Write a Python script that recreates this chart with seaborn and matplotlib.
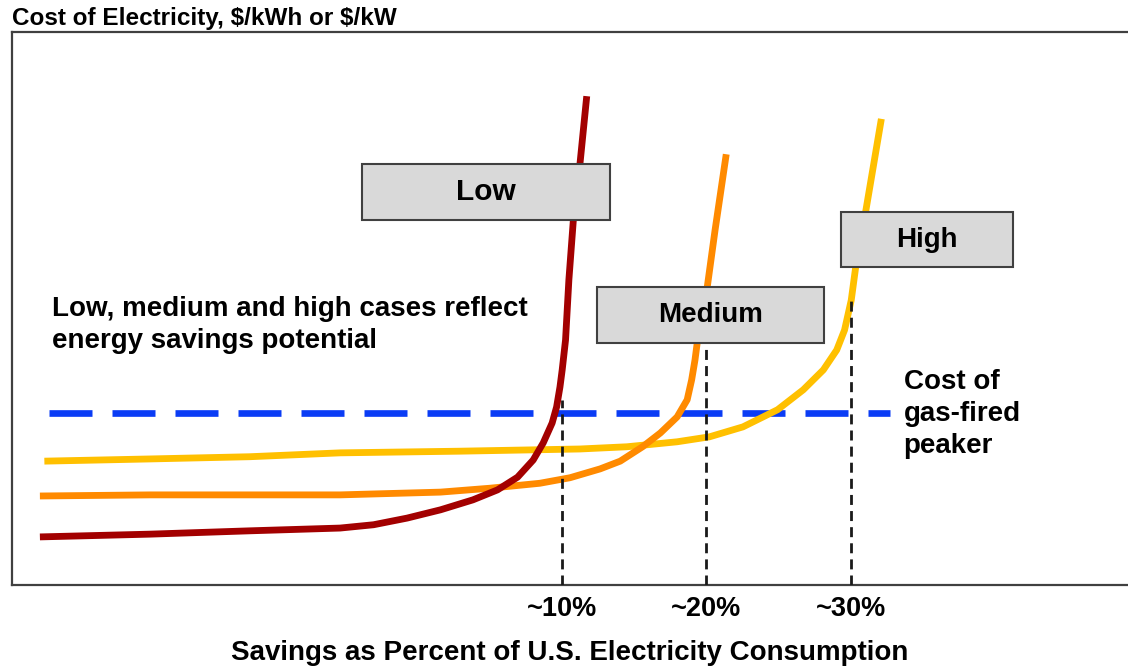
import matplotlib
matplotlib.use("Agg")
import matplotlib.pyplot as plt
from matplotlib.patches import Rectangle
import pandas as pd
import seaborn as sns

# Conceptual supply curves (axis units: x and y both 0-100 across the frame)
low_x = [2.5, 12.4, 21.3, 29.4, 32.4, 35.4, 38.4, 41.3, 43.5, 45.3, 46.7, 47.6, 48.4, 48.8,
         49.1, 49.3, 49.6, 49.9, 50.3, 50.9, 51.5]
low_y = [8.7, 9.2, 9.8, 10.3, 10.9, 12.1, 13.6, 15.4, 17.2, 19.5, 22.6, 25.7, 29.3, 32.2,
         35.8, 38.9, 44.3, 55.2, 66.0, 76.3, 88.4]

medium_x = [2.5, 12.4, 21.3, 29.4, 38.4, 42.8, 47.3, 50.0, 52.7, 54.5, 56.5, 58.1, 59.6,
            60.5, 60.9, 61.2, 61.4, 62.3, 63.0, 64.0]
medium_y = [16.1, 16.3, 16.3, 16.3, 16.8, 17.5, 18.4, 19.4, 21.0, 22.4, 25.0, 27.5, 30.4,
            33.5, 37.1, 40.7, 43.8, 53.9, 64.2, 77.9]

high_x = [2.9, 12.4, 21.3, 29.4, 40.1, 50.9, 55.1, 59.6, 62.5, 65.5, 68.6, 70.9, 72.7, 73.9,
          74.6, 75.2, 75.6, 76.5, 77.9]
high_y = [22.4, 22.8, 23.2, 23.9, 24.2, 24.6, 25.0, 25.9, 26.8, 28.6, 31.7, 35.3, 38.9, 42.5,
          46.1, 51.5, 57.5, 67.6, 84.3]

# Cost of gas-fired peaker (flat reference level)
peaker_cost = 31.1
peaker_x = [3.3, 78.7]

# Where each case meets its marker
case_names = ["Low", "Medium", "High"]
cross_x = [49.28, 62.19, 75.18]
cross_top = [33.5, 43.8, 51.5]
tick_labels = ["~10%", "~20%", "~30%"]

colors = {"Low": "#A30000", "Medium": "#FF8A00", "High": "#FFC000"}

df = pd.concat([
    pd.DataFrame({"x": high_x, "y": high_y, "case": "High"}),
    pd.DataFrame({"x": medium_x, "y": medium_y, "case": "Medium"}),
    pd.DataFrame({"x": low_x, "y": low_y, "case": "Low"}),
])

sns.set_style("white")
plt.rcParams["font.family"] = ["Liberation Sans", "DejaVu Sans"]
plt.rcParams["text.color"] = "black"
plt.rcParams["xtick.color"] = "black"
plt.rcParams["axes.labelcolor"] = "black"

fig = plt.figure(figsize=(11.28, 6.66), dpi=100)
ax = fig.add_axes([12 / 1128, 0.1216, 1116 / 1128, 0.8303])

ax.plot(peaker_x, [peaker_cost, peaker_cost], color="#0A3CF5", lw=4.8,
        linestyle=(0, (6.45, 3.0)), zorder=2)

sns.lineplot(data=df, x="x", y="y", hue="case", hue_order=["High", "Medium", "Low"],
             palette=colors, estimator=None, sort=False, lw=4.9, legend=False,
             ax=ax, zorder=3)
for line in ax.lines[1:]:
    line.set_solid_capstyle("butt")
    line.set_solid_joinstyle("round")

ax.vlines(cross_x, 0, cross_top, colors="#1a1a1a", lw=2.0,
          linestyles=(0, (3.6, 2.2)), zorder=4)

# label boxes: (left, bottom, width, height, fontsize)
boxes = {
    "Low": (31.36, 66.0, 22.22, 10.1, 21.5),
    "Medium": (52.42, 43.76, 20.34, 10.13, 20),
    "High": (74.28, 57.5, 15.42, 9.95, 20),
}
for name in case_names:
    bx, by, bw, bh, fs = boxes[name]
    ax.add_patch(Rectangle((bx, by), bw, bh, facecolor="#D9D9D9",
                           edgecolor="#404040", lw=1.5, zorder=5))
    ax.text(bx + bw / 2, by + bh / 2, name, ha="center", va="center",
            fontsize=fs, fontweight="bold", zorder=6)

ax.text(3.6, 47.0, "Low, medium and high cases reflect\nenergy savings potential",
        ha="left", va="center", fontsize=20, fontweight="bold", linespacing=1.3)
ax.text(79.9, 30.9, "Cost of\ngas-fired\npeaker", ha="left", va="center",
        fontsize=20, fontweight="bold", linespacing=1.3)

ax.set_xlim(0, 100)
ax.set_ylim(0, 100)
ax.set_xticks(cross_x)
ax.set_xticklabels(tick_labels, fontsize=19.5, fontweight="bold")
ax.set_yticks([])
ax.tick_params(axis="x", length=0, pad=8)
ax.set_xlabel("Savings as Percent of U.S. Electricity Consumption",
              fontsize=20, fontweight="bold", labelpad=13)
ax.set_ylabel("")
ax.set_title(r"Cost of Electricity, \$/kWh or \$/kW", loc="left", fontsize=17.5,
             fontweight="bold", pad=5)

for side in ["left", "top", "bottom"]:
    ax.spines[side].set_color("#404040")
    ax.spines[side].set_linewidth(1.6)
ax.spines["right"].set_visible(False)

fig.savefig("out.png", dpi=100)
